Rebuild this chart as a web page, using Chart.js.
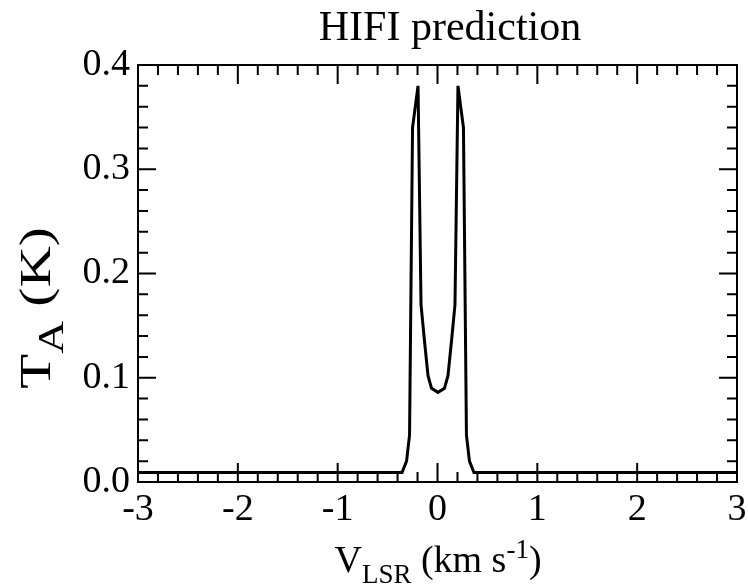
<!DOCTYPE html>
<html>
<head>
<meta charset="utf-8">
<title>HIFI prediction</title>
<script src="https://cdn.jsdelivr.net/npm/chart.js@4.4.1/dist/chart.umd.min.js"></script>
<style>
  body { margin: 0; background: #fff; }
  #chart { display: block; }
</style>
</head>
<body>
<canvas id="chart" width="748" height="587"></canvas>
<script>
// line profile: velocity (km/s) vs antenna temperature (K)
const velocity = [-3, -0.355, -0.31, -0.28, -0.25, -0.195, -0.165, -0.13, -0.095, -0.06, 0.005, 0.07, 0.105, 0.14, 0.175, 0.205, 0.26, 0.29, 0.32, 0.365, 3];
const antennaTemp = [0.009, 0.009, 0.02, 0.045, 0.34, 0.38, 0.17, 0.135, 0.102, 0.09, 0.086, 0.09, 0.102, 0.135, 0.17, 0.38, 0.34, 0.045, 0.02, 0.009, 0.009];
const xTicks = [-3, -2, -1, 0, 1, 2, 3];
const yTicks = [0.0, 0.1, 0.2, 0.3, 0.4];

const serif = '"Liberation Serif", "Times New Roman", serif';

// draw text pieces with sub/superscripts, centred on (0,0)
function drawRich(ctx, parts, size, subScale) {
    const small = Math.round(size * (subScale || 0.72));
    let total = 0;
    parts.forEach(p => {
        ctx.font = (p.s ? small : size) + 'px ' + serif;
        p.w = ctx.measureText(p.t).width;
        total += p.w;
    });
    let cx = -total / 2;
    parts.forEach(p => {
        ctx.font = (p.s ? small : size) + 'px ' + serif;
        const dy = p.s === -1 ? size * 0.3 : p.s === 1 ? -size * 0.38 : 0;
        ctx.fillText(p.t, cx, dy);
        cx += p.w;
    });
}

const framePlugin = {
    id: 'frame',
    afterDraw(chart) {
        const { ctx, chartArea: a, scales: { x, y } } = chart;
        ctx.save();
        ctx.strokeStyle = '#000';
        ctx.fillStyle = '#000';
        ctx.lineWidth = 2;
        ctx.strokeRect(a.left, a.top, a.right - a.left, a.bottom - a.top);

        // inward ticks on all four sides
        ctx.beginPath();
        for (let i = -15; i <= 15; i++) {
            const px = x.getPixelForValue(i / 5);
            const len = i % 5 === 0 ? 19 : 10;
            ctx.moveTo(px, a.bottom); ctx.lineTo(px, a.bottom - len);
            ctx.moveTo(px, a.top); ctx.lineTo(px, a.top + len);
        }
        for (let i = 0; i <= 20; i++) {
            const py = y.getPixelForValue(i / 50);
            const len = i % 5 === 0 ? 18 : 10;
            ctx.moveTo(a.left, py); ctx.lineTo(a.left + len, py);
            ctx.moveTo(a.right, py); ctx.lineTo(a.right - len, py);
        }
        ctx.stroke();

        ctx.textAlign = 'left';
        ctx.textBaseline = 'alphabetic';

        // title
        ctx.save();
        ctx.translate(450, 40);
        drawRich(ctx, [{ t: 'HIFI prediction', s: 0 }], 42);
        ctx.restore();

        // x axis title
        ctx.save();
        ctx.translate(438, 572);
        drawRich(ctx, [
            { t: 'V', s: 0 }, { t: 'LSR', s: -1 }, { t: ' (km s', s: 0 },
            { t: '-1', s: 1 }, { t: ')', s: 0 }
        ], 38);
        ctx.restore();

        // y axis title, a bit stretched along its length like the original
        ctx.save();
        ctx.translate(50, 308);
        ctx.rotate(-Math.PI / 2);
        ctx.scale(1.3, 1);
        drawRich(ctx, [{ t: 'T', s: 0 }, { t: 'A', s: -1 }, { t: ' (K)', s: 0 }], 44, 0.8);
        ctx.restore();

        ctx.restore();
    }
};

const ctx = document.getElementById('chart').getContext('2d');
new Chart(ctx, {
    type: 'scatter',
    data: {
        datasets: [{
            data: velocity.map((v, i) => ({ x: v, y: antennaTemp[i] })),
            showLine: true,
            borderColor: '#000',
            borderWidth: 3,
            pointRadius: 0,
            tension: 0
        }]
    },
    options: {
        responsive: false,
        animation: false,
        layout: { padding: { top: 65, right: 11, left: 0, bottom: 0 } },
        plugins: { legend: { display: false }, tooltip: { enabled: false } },
        scales: {
            x: {
                type: 'linear',
                min: -3,
                max: 3,
                afterBuildTicks: s => { s.ticks = xTicks.map(v => ({ value: v })); },
                afterFit: s => { s.height = 105; s.paddingLeft = 0; s.paddingRight = 0; },
                grid: { display: false, drawTicks: false },
                border: { display: false },
                ticks: {
                    color: '#000',
                    padding: 5,
                    maxRotation: 0,
                    font: { family: serif, size: 38 },
                    callback: v => String(v)
                }
            },
            y: {
                min: 0,
                max: 0.4,
                afterBuildTicks: s => { s.ticks = yTicks.map(v => ({ value: v })); },
                afterFit: s => { s.width = 138; s.paddingTop = 0; s.paddingBottom = 0; },
                grid: { display: false, drawTicks: false },
                border: { display: false },
                ticks: {
                    color: '#000',
                    padding: 8,
                    font: { family: serif, size: 38 },
                    callback: v => v.toFixed(1)
                }
            }
        }
    },
    plugins: [framePlugin]
});
</script>
</body>
</html>
